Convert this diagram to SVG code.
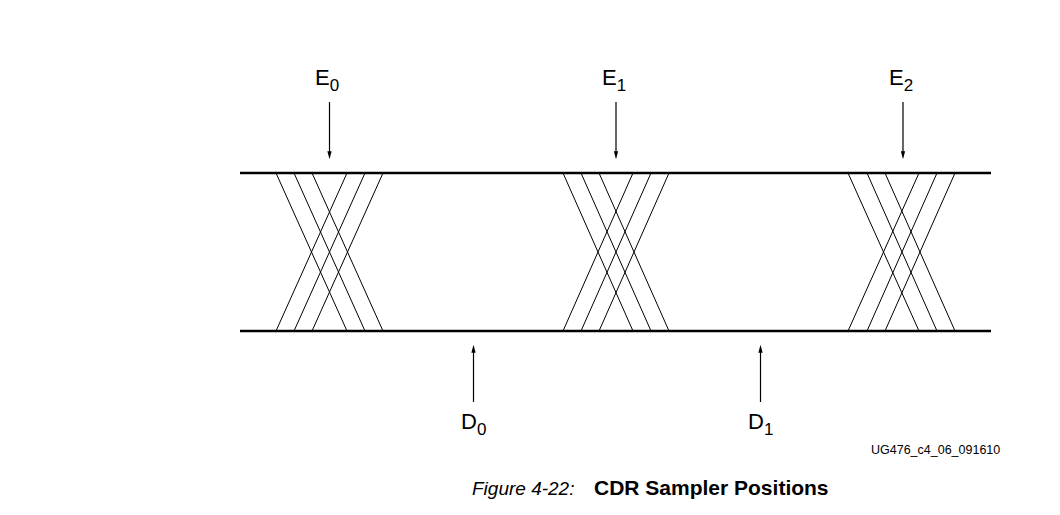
<svg xmlns="http://www.w3.org/2000/svg" width="1060" height="515" viewBox="0 0 1060 515">
<defs>
<marker id="ah" markerWidth="8" markerHeight="15" refX="7" refY="4" orient="auto" markerUnits="userSpaceOnUse" viewBox="0 0 15 8">
<path d="M0,0 L15,4 L0,8 Z" fill="#000"/>
</marker>
<style>
.rail{stroke:#000;stroke-width:2.6;fill:none}
.strand{stroke:#000;stroke-width:1;fill:none}
.arr{stroke:#000;stroke-width:1.2;fill:none;marker-end:url(#ah)}
.lbl{font-family:"Liberation Sans",Arial,sans-serif;font-size:22px;fill:#000}
.sub{font-size:17px}
.id{font-family:"Liberation Sans",Arial,sans-serif;font-size:12.5px;fill:#000}
.cap{font-family:"Liberation Sans",Arial,sans-serif;fill:#000}
</style>
</defs>
<rect width="1060" height="515" fill="#fff"/>
<g id="rails">
<line class="rail" x1="240" y1="173" x2="991" y2="173"/>
<line class="rail" x1="240" y1="331" x2="991" y2="331"/>
</g>
<g id="eye0">
<line class="strand" x1="276" y1="173" x2="347" y2="331"/>
<line class="strand" x1="294" y1="173" x2="365" y2="331"/>
<line class="strand" x1="312" y1="173" x2="383" y2="331"/>
<line class="strand" x1="347" y1="173" x2="276" y2="331"/>
<line class="strand" x1="365" y1="173" x2="294" y2="331"/>
<line class="strand" x1="383" y1="173" x2="312" y2="331"/>
</g>
<g id="eye1">
<line class="strand" x1="563" y1="173" x2="633" y2="331"/>
<line class="strand" x1="581" y1="173" x2="651" y2="331"/>
<line class="strand" x1="599" y1="173" x2="669" y2="331"/>
<line class="strand" x1="633" y1="173" x2="563" y2="331"/>
<line class="strand" x1="651" y1="173" x2="581" y2="331"/>
<line class="strand" x1="669" y1="173" x2="599" y2="331"/>
</g>
<g id="eye2">
<line class="strand" x1="848" y1="173" x2="919" y2="331"/>
<line class="strand" x1="867" y1="173" x2="937" y2="331"/>
<line class="strand" x1="885" y1="173" x2="955" y2="331"/>
<line class="strand" x1="919" y1="173" x2="848" y2="331"/>
<line class="strand" x1="937" y1="173" x2="867" y2="331"/>
<line class="strand" x1="955" y1="173" x2="885" y2="331"/>
</g>
<g id="connectors">
<line class="arr" x1="329.5" y1="102" x2="329.5" y2="155"/>
<line class="arr" x1="616" y1="102" x2="616" y2="155"/>
<line class="arr" x1="903" y1="102" x2="903" y2="155"/>
<line class="arr" x1="473.5" y1="402" x2="473.5" y2="349"/>
<line class="arr" x1="760.5" y1="402" x2="760.5" y2="349"/>
</g>
<g id="labelE0"><text class="lbl" x="315" y="85">E<tspan class="sub" dy="6">0</tspan></text></g>
<g id="labelE1"><text class="lbl" x="602" y="85">E<tspan class="sub" dy="6">1</tspan></text></g>
<g id="labelE2"><text class="lbl" x="889" y="85">E<tspan class="sub" dy="6">2</tspan></text></g>
<g id="labelD0"><text class="lbl" x="461" y="429">D<tspan class="sub" dy="6">0</tspan></text></g>
<g id="labelD1"><text class="lbl" x="748" y="429">D<tspan class="sub" dy="6">1</tspan></text></g>
<text class="id" x="871" y="454">UG476_c4_06_091610</text>
<text class="cap" x="472" y="495"><tspan font-size="19" font-style="italic">Figure 4-22:</tspan><tspan x="594" font-size="21" font-weight="bold">CDR Sampler Positions</tspan></text>
</svg>
